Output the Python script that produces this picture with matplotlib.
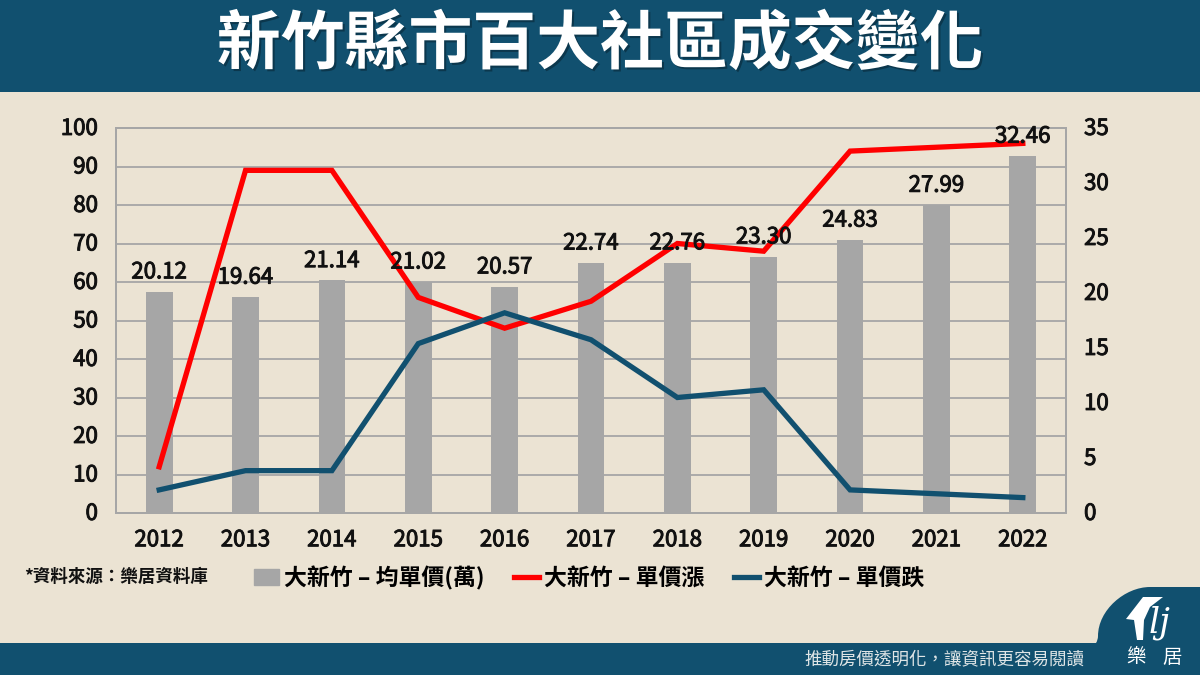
import numpy as np
import matplotlib
matplotlib.use("Agg")
import matplotlib.pyplot as plt
import matplotlib.patheffects as pe
from matplotlib.patches import Rectangle, PathPatch, Polygon
from matplotlib.path import Path
from matplotlib.lines import Line2D
from matplotlib.transforms import ScaledTranslation

plt.rcParams['font.family'] = ['Noto Sans CJK TC', 'DejaVu Sans']

years = ['2012', '2013', '2014', '2015', '2016', '2017', '2018', '2019', '2020', '2021', '2022']
price = [20.12, 19.64, 21.14, 21.02, 20.57, 22.74, 22.76, 23.30, 24.83, 27.99, 32.46]
up = [12, 89, 89, 56, 48, 55, 70, 68, 94, 95, 96]
down = [6, 11, 11, 44, 52, 45, 30, 32, 6, 5, 4]

bg = '#ebe3d3'
navy = '#11506f'
gray = '#a6a6a6'
ink = '#111111'
W, H = 1200, 675

fig = plt.figure(figsize=(12, 6.75), dpi=100, facecolor=bg)

# canvas in pixels for the banner, footer and logo
cv = fig.add_axes([0, 0, 1, 1], zorder=0)
cv.set_xlim(0, W)
cv.set_ylim(H, 0)
cv.axis('off')
cv.add_patch(Rectangle((0, 0), W, 92, color=navy, lw=0))
cv.add_patch(Rectangle((0, 643), W, 32, color=navy, lw=0))
tab = Path([(1200, 587), (1150, 587), (1125, 587), (1098, 610), (1098, 636),
            (1098, 640), (1096, 643), (1092, 643), (1200, 643), (1200, 587)],
           [Path.MOVETO, Path.LINETO, Path.CURVE4, Path.CURVE4, Path.CURVE4,
            Path.CURVE3, Path.CURVE3, Path.LINETO, Path.LINETO, Path.CLOSEPOLY])
cv.add_patch(PathPatch(tab, fc=navy, lw=0))
cv.add_patch(Polygon([(1143, 597), (1163, 597), (1150, 607), (1144, 620), (1143, 640),
                      (1137, 640), (1134, 620), (1126, 619)], color='white', lw=0))
cv.text(1160, 623, 'lj', color='white', fontsize=25, style='italic', family='DejaVu Serif',
        ha='center', va='center')
cv.text(1136, 657, '樂', color='white', fontsize=14, ha='center', va='center')
cv.text(1172, 657, '居', color='white', fontsize=14, ha='center', va='center')

title = cv.text(600, 45, '新竹縣市百大社區成交變化', color='white', fontsize=46, weight='bold',
                ha='center', va='center')
title.set_path_effects([pe.SimplePatchShadow(offset=(1.5, -1.5), alpha=0.3, shadow_rgbFace='black'), pe.Normal()])
cv.text(1084, 659, '推動房價透明化，讓資訊更容易閱讀', color='#dfe5e6', fontsize=12.6, ha='right', va='center')
cv.text(24, 577, '*資料來源：樂居資料庫', color=ink, fontsize=12.6, weight='bold', ha='left', va='center')

# chart area
rect = [116 / W, 1 - 513 / H, 950 / W, 385 / H]
x = np.arange(len(years))

ax = fig.add_axes(rect, zorder=1, facecolor='none')
ax.set_xlim(-0.5, 10.5)
ax.set_ylim(0, 100)
ax.set_yticks(np.arange(0, 101, 10))
ax.set_xticks(x)
ax.set_xticklabels(years)
ax.grid(axis='y', color=gray, lw=1.3)
ax.set_axisbelow(True)
ax.tick_params(axis='x', length=0, labelsize=16, labelcolor=ink, pad=11)
ax.tick_params(axis='y', length=0, labelsize=16, labelcolor=ink, pad=13)

ax2 = fig.add_axes(rect, zorder=2, facecolor='none', sharex=ax)
ax2.yaxis.tick_right()
ax2.bar(x, price, width=0.31, color=gray)
ax2.set_ylim(0, 35)
ax2.set_yticks(np.arange(0, 36, 5))
ax2.tick_params(axis='y', length=0, labelsize=16, labelcolor=ink, pad=13)
ax2.tick_params(axis='x', length=0, labelbottom=False)

ax3 = fig.add_axes(rect, zorder=3, facecolor='none', sharex=ax, sharey=ax)
ax3.plot(x, up, color='#ff0000', lw=3.8, solid_joinstyle='miter')
ax3.plot(x, down, color=navy, lw=3.8, solid_joinstyle='miter')
ax3.tick_params(axis='both', length=0, labelleft=False, labelbottom=False)

# slight stroke, the labels in the picture are a bit heavier than regular
heavier = [pe.withStroke(linewidth=0.7, foreground=ink)]
for xi, v in zip(x, price):
    ax3.annotate(f'{v:.2f}', (xi, v), xycoords=ax2.transData, xytext=(0, 6), textcoords='offset points',
                 ha='center', va='bottom', fontsize=16, color=ink, zorder=5, path_effects=heavier)

for a in (ax, ax2, ax3):
    for s in a.spines.values():
        s.set_color(gray)
        s.set_linewidth(1.3)

shift = ScaledTranslation(0, 1.5 / 72, fig.dpi_scale_trans)
for lab in ax.get_yticklabels() + ax2.get_yticklabels():
    lab.set_path_effects(heavier)
    lab.set_transform(lab.get_transform() + shift)
for lab in ax.get_xticklabels():
    lab.set_path_effects(heavier)

handles = [Rectangle((0, 0), 1, 1, color=gray),
           Line2D([0], [0], color='#ff0000', lw=3.8),
           Line2D([0], [0], color=navy, lw=3.8)]
labels = ['大新竹 – 均單價(萬)', '大新竹 – 單價漲', '大新竹 – 單價跌']
fig.legend(handles, labels, loc='center left', bbox_to_anchor=(254 / W, 1 - 578 / H), ncol=3, frameon=False,
           prop={'size': 16.5, 'weight': 'bold'}, handlelength=1.1, handletextpad=0.2, columnspacing=1.3,
           borderpad=0, borderaxespad=0)

fig.savefig('out.png', dpi=100, facecolor=bg)
